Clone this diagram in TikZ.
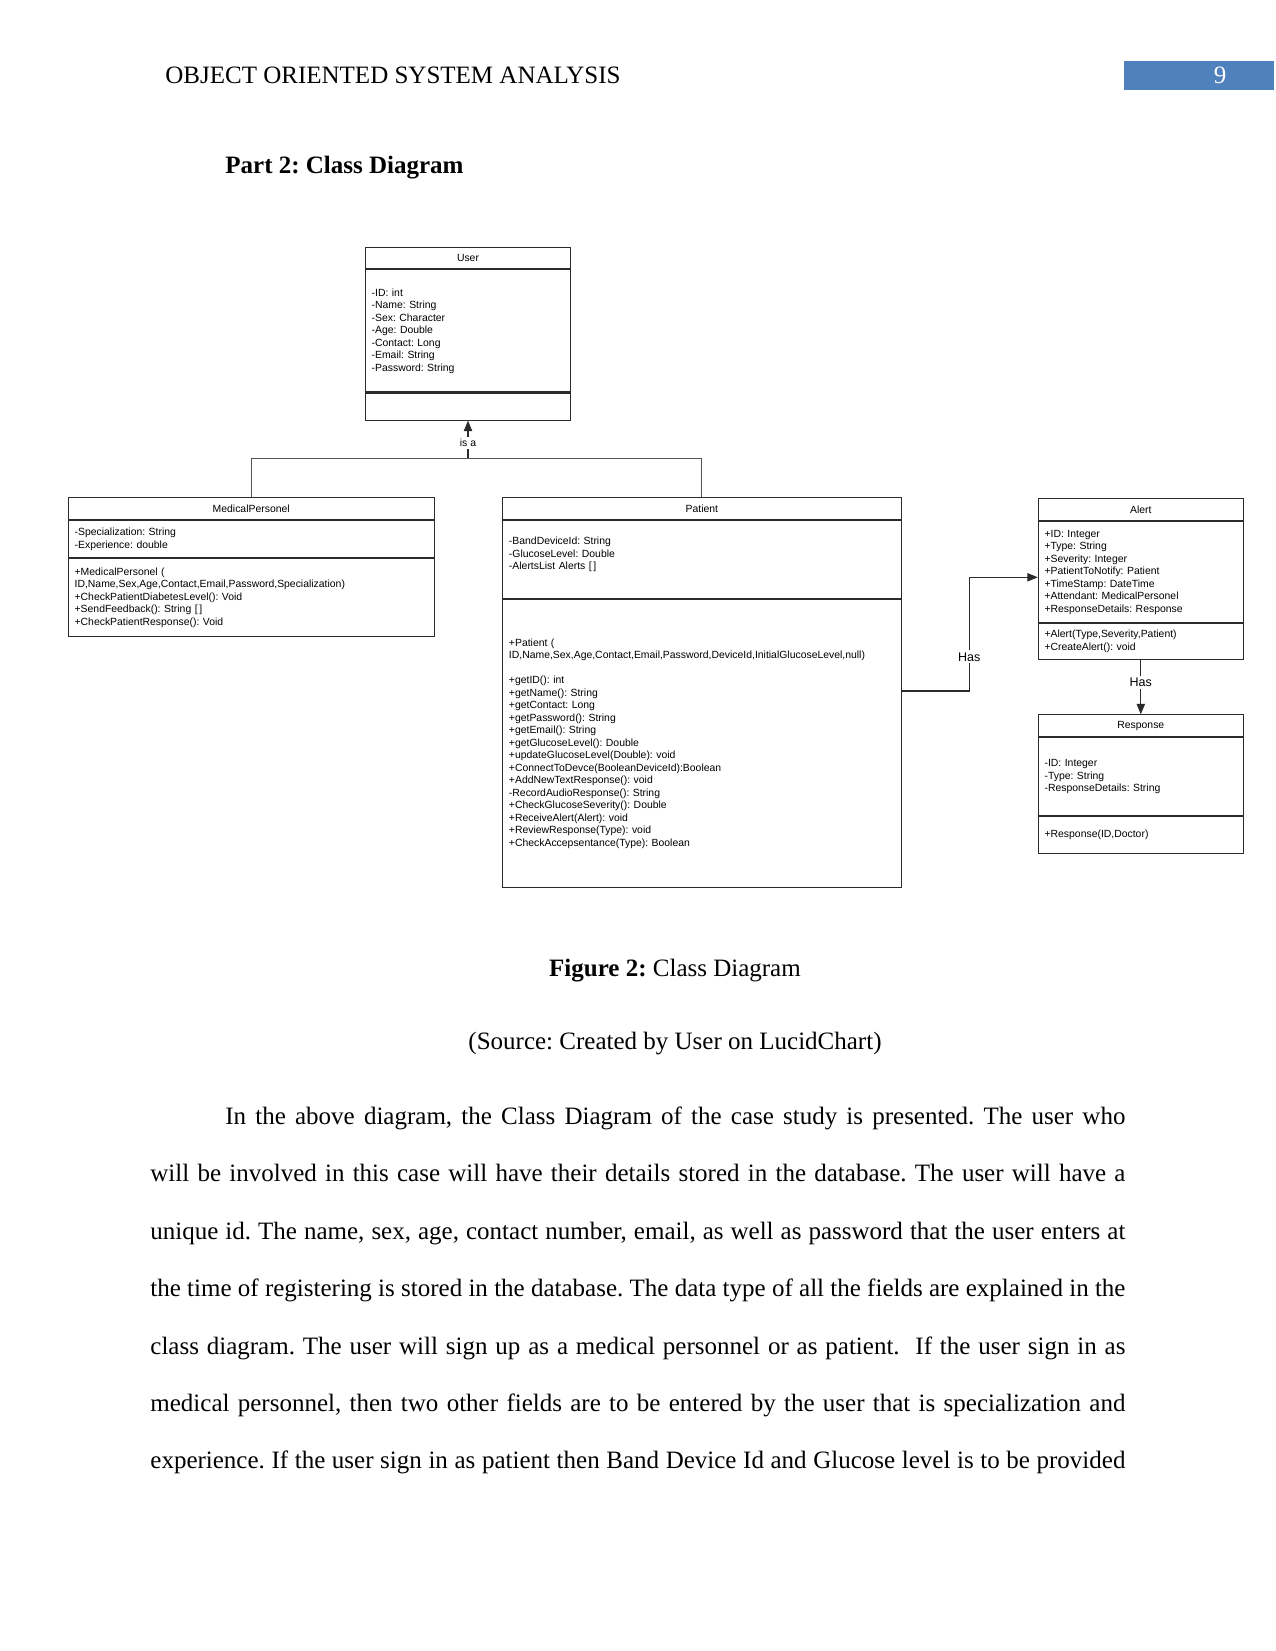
\documentclass[tikz,border=0pt]{standalone}
\usepackage{fontspec}
\setmainfont{Liberation Serif}
\setsansfont{Liberation Sans}
\usetikzlibrary{arrows.meta, positioning}
\definecolor{hdrblue}{HTML}{4F81BD}
\definecolor{umlline}{HTML}{2B2B2B}
\frenchspacing

\begin{document}
\begin{tikzpicture}[
  x=0.48pt, y=-0.48pt,
  cls/.style={draw=umlline, line width=0.5pt, anchor=north, inner sep=0pt,
              font=\sffamily\fontsize{5}{6}\selectfont},
  part/.style={draw=umlline, line width=0.5pt, inner xsep=3pt, inner ysep=0pt,
               align=left, font=\sffamily\fontsize{5}{6}\selectfont},
  arr/.style={-{Triangle[length=5pt, width=4pt]}, line width=0.5pt, draw=umlline},
  lbl/.style={fill=white, inner sep=1pt, font=\sffamily\fontsize{5}{6}\selectfont},
  haslbl/.style={fill=white, inner sep=1pt, font=\sffamily\fontsize{6}{7}\selectfont},
  node distance=0pt
]
  \fill[white] (0,0) rectangle (1275,1651);
  \useasboundingbox (0,0) rectangle (1275,1651);

  % running head
  \node[anchor=base west, inner sep=0pt, font=\fontsize{12}{14}\selectfont]
       (runhead) at (165,84) {OBJECT ORIENTED SYSTEM ANALYSIS};
  \node[fill=hdrblue, anchor=north west, minimum width=72pt,
        minimum height=13.7pt, inner sep=0pt] (pagebox) at (1124,61) {};
  \node[anchor=base, text=white, inner sep=0pt, font=\fontsize{12}{14}\selectfont]
       (pagenum) at (1220,84) {9};

  \node[anchor=base west, inner sep=0pt, font=\bfseries\fontsize{12}{14}\selectfont]
       (parttitle) at (225,174) {Part 2: Class Diagram};

  % User
  \node[cls, minimum width=98.5pt, minimum height=10.4pt] (user) at (468,246.7) {User};
  \node[part, text width=92.5pt, minimum height=58.6pt, below=of user] (userattr)
       {-ID: int\\-Name: String\\-Sex: Character\\-Age: Double\\-Contact: Long\\-Email: String\\-Password: String};
  \node[part, text width=92.5pt, minimum height=13pt, below=of userattr] (userops) {};

  % MedicalPersonel
  \node[cls, minimum width=175.5pt, minimum height=10.6pt] (medp) at (251.2,497.3) {MedicalPersonel};
  \node[part, text width=169.5pt, minimum height=17.6pt, below=of medp] (medpattr)
       {-Specialization: String\\-Experience: double};
  \node[part, text width=169.5pt, minimum height=37.4pt, below=of medpattr] (medpops)
       {+MedicalPersonel (\\ID,Name,Sex,Age,Contact,Email,Password,Specialization)\\
        +CheckPatientDiabetesLevel(): Void\\+SendFeedback(): String [\,]\\+CheckPatientResponse(): Void};

  % Patient
  \node[cls, minimum width=191.2pt, minimum height=10.6pt] (pat) at (701.9,497.3) {Patient};
  \node[part, text width=185.2pt, minimum height=37.2pt, below=of pat] (patattr)
       {-BandDeviceId: String\\-GlucoseLevel: Double\\-AlertsList Alerts [\,]\\\mbox{}};
  \node[part, text width=185.2pt, minimum height=138.4pt, below=of patattr] (patops)
       {+Patient (\\ID,Name,Sex,Age,Contact,Email,Password,DeviceId,InitialGlucoseLevel,null)\\[6pt]
        +getID(): int\\+getName(): String\\+getContact: Long\\+getPassword(): String\\
        +getEmail(): String\\+getGlucoseLevel(): Double\\+updateGlucoseLevel(Double): void\\
        +ConnectToDevce(BooleanDeviceId):Boolean\\+AddNewTextResponse(): void\\
        -RecordAudioResponse(): String\\+CheckGlucoseSeverity(): Double\\+ReceiveAlert(Alert): void\\
        +ReviewResponse(Type): void\\+CheckAccepsentance(Type): Boolean};

  % Alert
  \node[cls, minimum width=98.4pt, minimum height=10.4pt] (alert) at (1140.8,498.3) {Alert};
  \node[part, text width=92.4pt, minimum height=48.5pt, below=of alert] (alertattr)
       {+ID: Integer\\+Type: String\\+Severity: Integer\\+PatientToNotify: Patient\\
        +TimeStamp: DateTime\\+Attendant: MedicalPersonel\\+ResponseDetails: Response};
  \node[part, text width=92.4pt, minimum height=17.1pt, below=of alertattr] (alertops)
       {+Alert(Type,Severity,Patient)\\+CreateAlert(): void};

  % Response
  \node[cls, minimum width=98.4pt, minimum height=10.4pt] (resp) at (1140.8,714.3) {Response};
  \node[part, text width=92.4pt, minimum height=37.6pt, below=of resp] (respattr)
       {-ID: Integer\\-Type: String\\-ResponseDetails: String};
  \node[part, text width=92.4pt, minimum height=17.5pt, below=of respattr] (respops)
       {+Response(ID,Doctor)};

  % generalisation
  \coordinate (bus) at (userops.south |- 0,458.3);
  \draw[line width=0.5pt, draw=umlline!80] (medp.north) |- (bus) -| (pat.north);
  \draw[arr] (bus) -- node[lbl, pos=0.4] {is a} (userops.south);

  % associations
  \coordinate (hasy) at (0,691);
  \coordinate (hasout) at (patops.east |- hasy);
  \coordinate (hastop) at (969.3,577.3);
  \coordinate (hasin) at (alertattr.west |- hastop);
  \draw[arr] (hasout) -| node[haslbl, pos=0.65] {Has} (hastop) -- (hasin);
  \draw[arr] (alertops.south) -- node[haslbl, pos=0.42] {Has} (resp.north);

  % caption
  \node[anchor=base, inner sep=0pt, font=\fontsize{12}{14}\selectfont]
       (figcap) at (675,976) {\textbf{Figure 2:} Class Diagram};
  \node[anchor=base, inner sep=0pt, font=\fontsize{12}{14}\selectfont]
       (figsrc) at (675,1049) {(Source: Created by User on LucidChart)};

  % body text
  \node[anchor=base west, inner sep=0pt, text width=468pt, align=justify,
        font=\fontsize{12}{27.55}\selectfont] (body) at (150,1124.5)
       {\hspace*{36pt}In the above diagram, the Class Diagram of the case study is presented. The user who\linebreak
        will be involved in this case will have their details stored in the database. The user will have a\linebreak
        unique id. The name, sex, age, contact number, email, as well as password that the user enters at\linebreak
        the time of registering is stored in the database. The data type of all the fields are explained in the\linebreak
        class diagram. The user will sign up as a medical personnel or as patient. \ If the user sign in as\linebreak
        medical personnel, then two other fields are to be entered by the user that is specialization and\linebreak
        experience. If the user sign in as patient then Band Device Id and Glucose level is to be provided\parfillskip=0pt\par};
\end{tikzpicture}
\end{document}
